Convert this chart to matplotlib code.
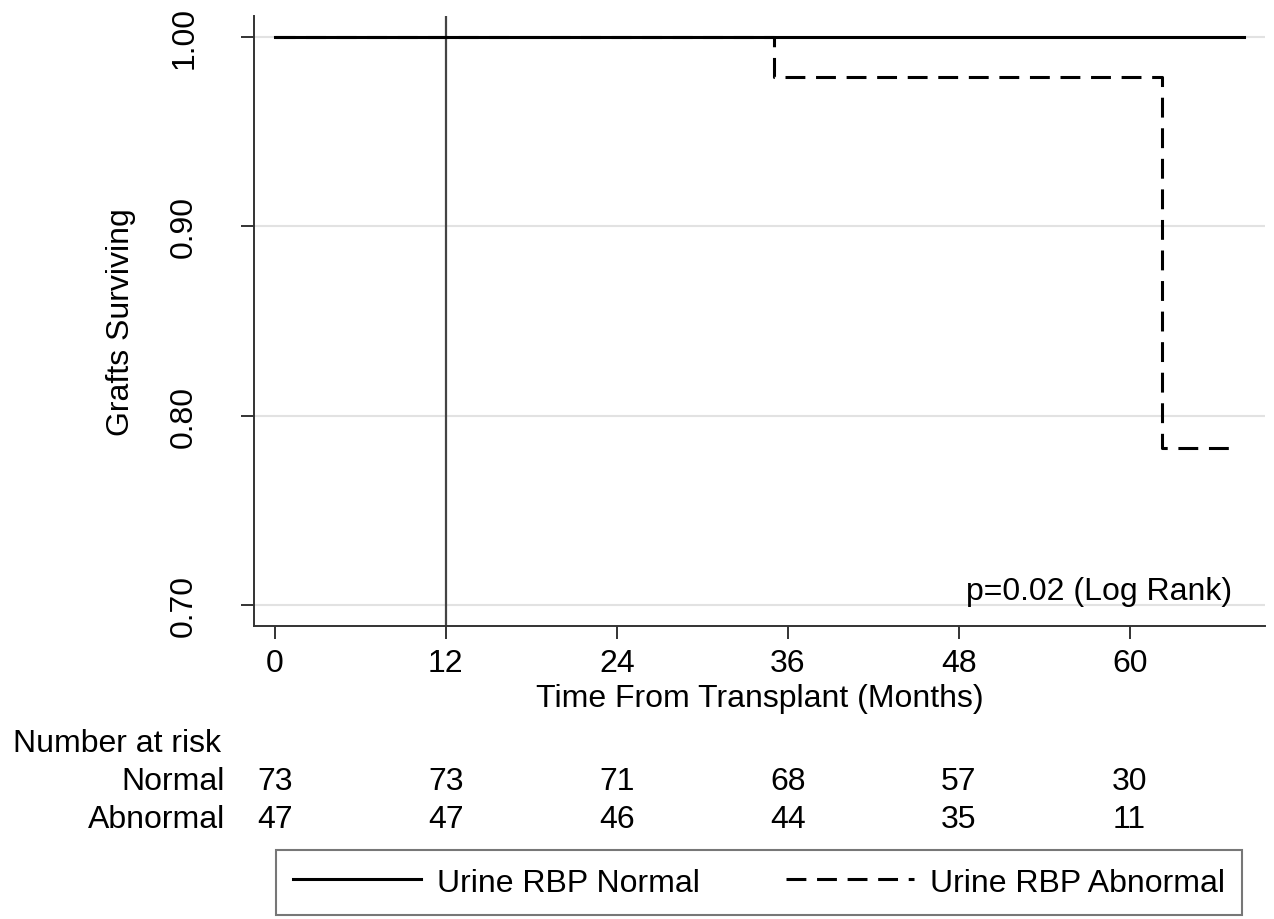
import matplotlib.pyplot as plt
import matplotlib.transforms as mtransforms

plt.rcParams['font.family'] = ['Liberation Sans', 'DejaVu Sans']

# Kaplan-Meier steps
normal_t = [0, 68]
normal_s = [1.0, 1.0]
abnormal_t = [0, 35, 62.3, 67.7]
abnormal_s = [1.0, 0.9787, 0.783, 0.783]

# number at risk table
risk_times = [0, 12, 24, 36, 48, 60]
risk_normal = [73, 73, 71, 68, 57, 30]
risk_abnormal = [47, 47, 46, 44, 35, 11]

xticks = [0, 12, 24, 36, 48, 60]
yticks = [0.70, 0.80, 0.90, 1.00]

W, H = 1274, 920
fs = 23
spine_col = '#333333'

fig = plt.figure(figsize=(W / 100, H / 100), dpi=100)
ax = fig.add_axes([254 / W, 1 - 627 / H, (1265 - 254) / W, (627 - 17) / H])

for y in yticks:
    ax.axhline(y, color='#e2e2e2', lw=1.5, zorder=0)
ax.axvline(12, color='#444444', lw=1.6, zorder=1)

ax.step(abnormal_t, abnormal_s, where='post', color='black', lw=2.2,
        dashes=(6.5, 3.5), label='Urine RBP Abnormal', zorder=2)
ax.step(normal_t, normal_s, where='post', color='black', lw=2.2,
        label='Urine RBP Normal', zorder=3)

ax.set_xlim(-1.47, 69.5)
ax.set_ylim(0.689, 1.011)
ax.set_xticks(xticks)
ax.set_yticks(yticks)
ax.set_yticklabels(['%.2f' % v for v in yticks], rotation=90, va='center')
ax.tick_params(axis='both', labelsize=fs, length=9.5, width=1.4, color=spine_col)
ax.tick_params(axis='x', pad=6)
ax.tick_params(axis='y', pad=30)
for s in ['top', 'right']:
    ax.spines[s].set_visible(False)
for s in ['left', 'bottom']:
    ax.spines[s].set_color(spine_col)
    ax.spines[s].set_linewidth(1.4)

ax.set_xlabel('Time From Transplant (Months)', fontsize=fs, labelpad=4)
ax.set_ylabel('Grafts Surviving', fontsize=fs, labelpad=24)

ax.text(67.2, 0.703, 'p=0.02 (Log Rank)', fontsize=fs, ha='right', va='baseline')

# number at risk
trans = mtransforms.blended_transform_factory(ax.transData, fig.transFigure)
fig.text(13 / W, 1 - 752 / H, 'Number at risk', fontsize=fs, va='baseline')
fig.text(225 / W, 1 - 790 / H, 'Normal', fontsize=fs, ha='right', va='baseline')
fig.text(225 / W, 1 - 828 / H, 'Abnormal', fontsize=fs, ha='right', va='baseline')
for t, n1, n2 in zip(risk_times, risk_normal, risk_abnormal):
    ax.text(t, 1 - 790 / H, str(n1), transform=trans, fontsize=fs, ha='center', va='baseline')
    ax.text(t, 1 - 828 / H, str(n2), transform=trans, fontsize=fs, ha='center', va='baseline')

handles, labels = ax.get_legend_handles_labels()
leg = fig.legend(handles[::-1], labels[::-1], loc='upper center', ncol=2,
                 bbox_to_anchor=(759 / W, 1 - 851 / H), fontsize=fs,
                 handlelength=4.0, handletextpad=0.5, columnspacing=2.7,
                 borderpad=0.55, fancybox=False, borderaxespad=0)
leg.get_frame().set_edgecolor('#555555')
leg.get_frame().set_linewidth(1.5)

fig.savefig('out.png', dpi=100)
